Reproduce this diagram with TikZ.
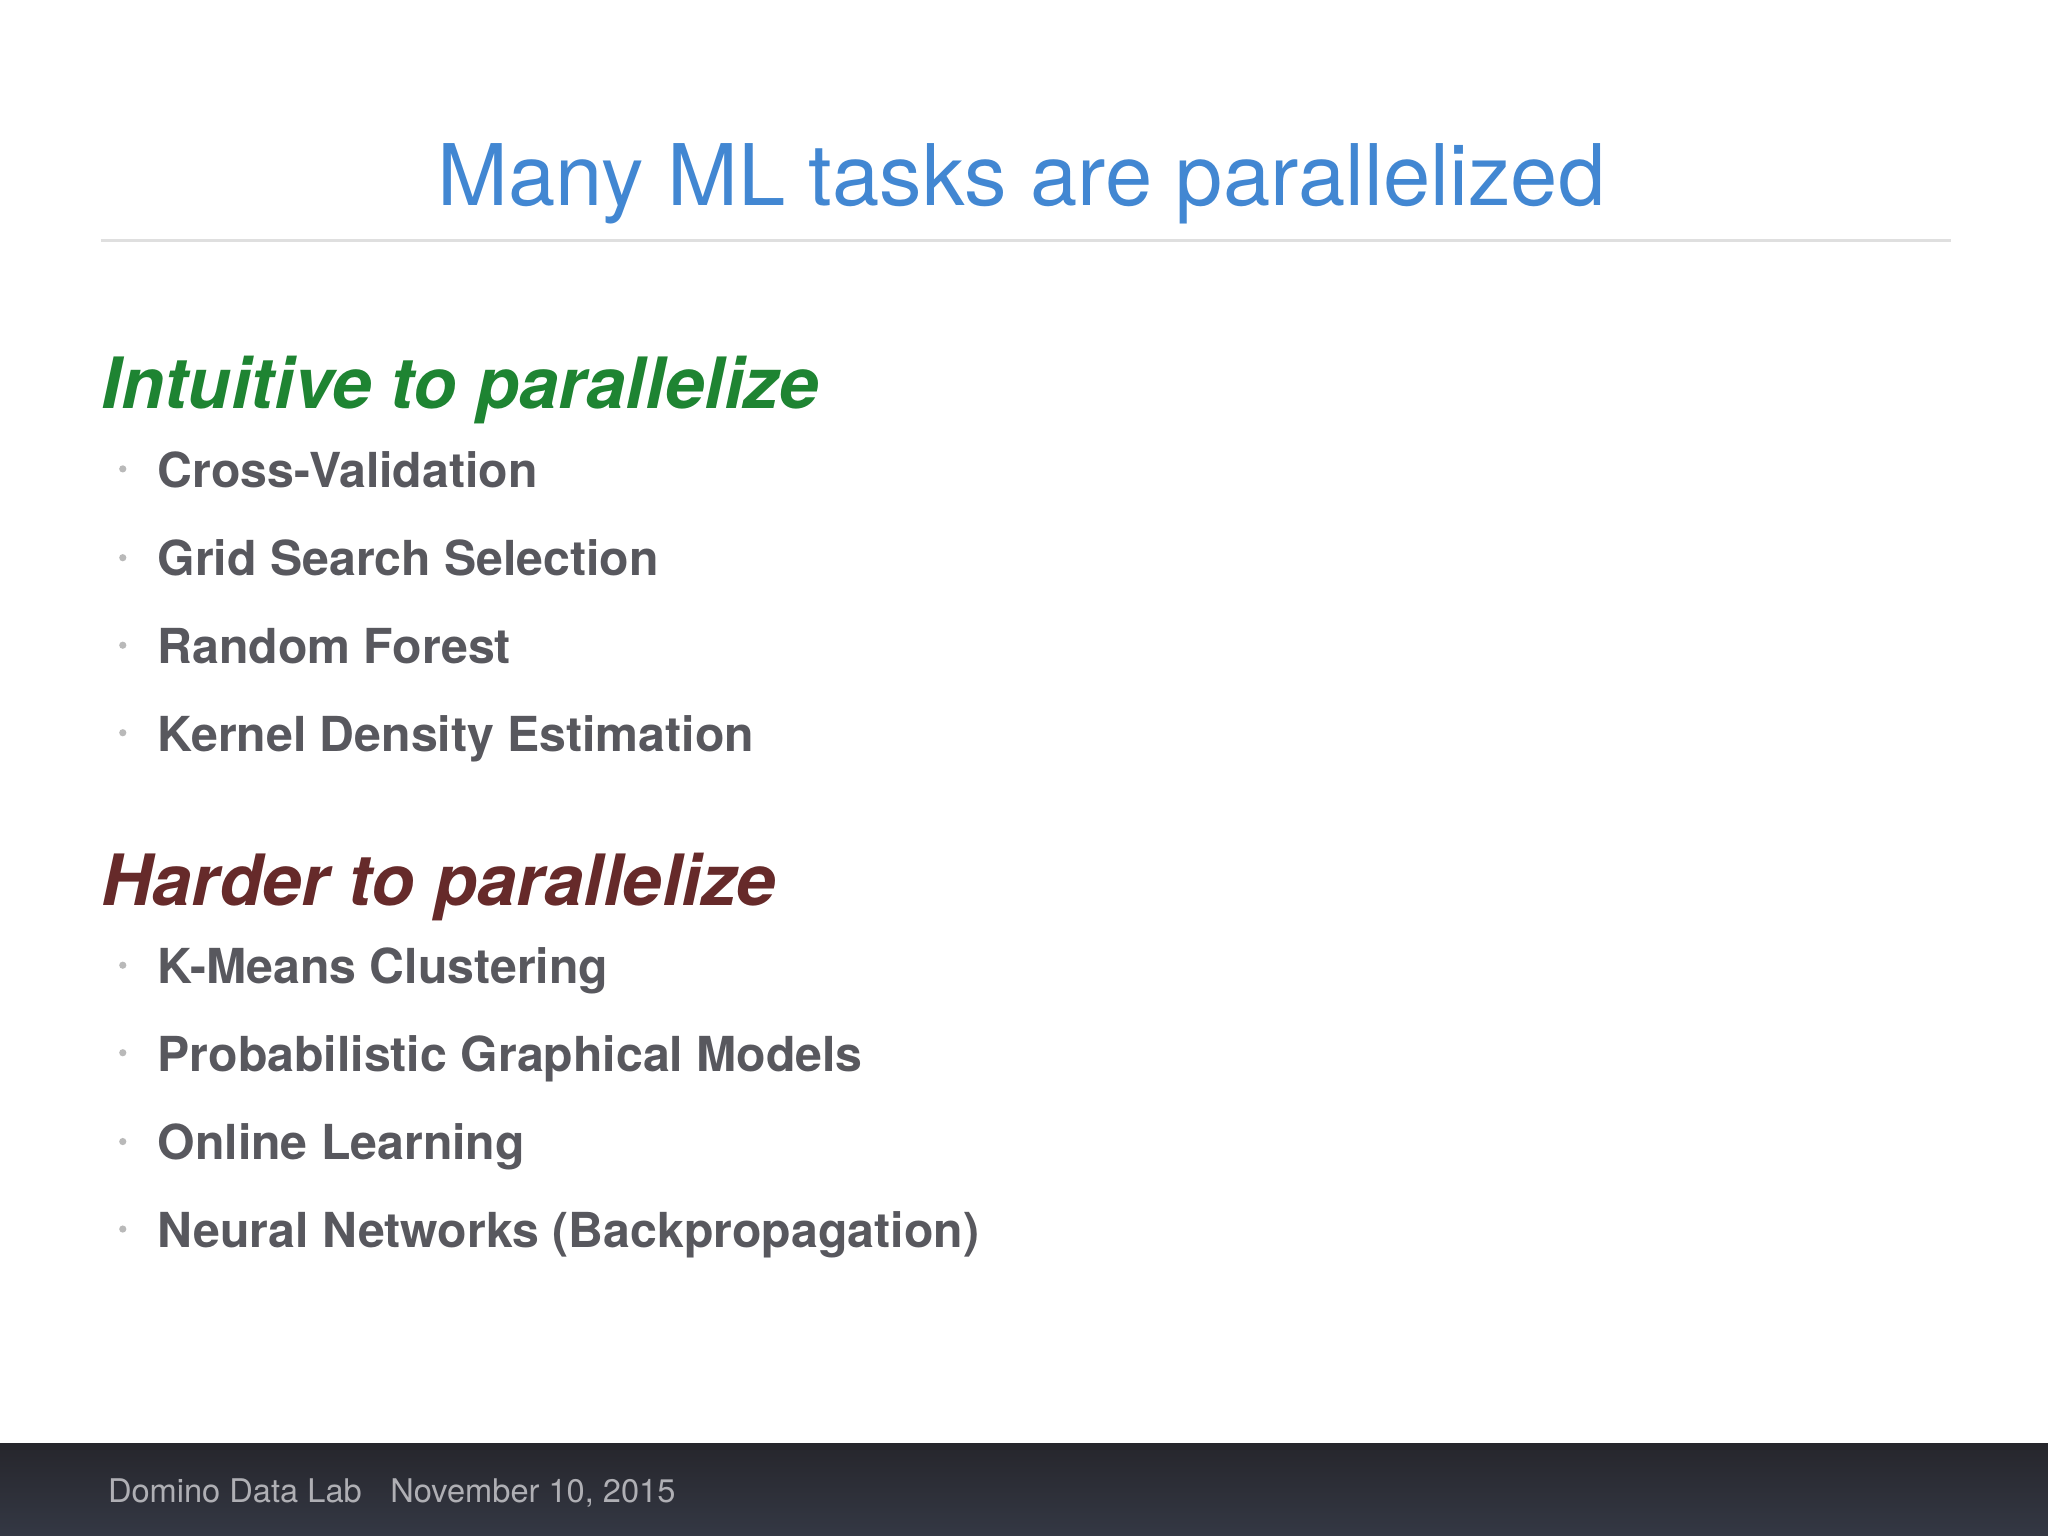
\documentclass[tikz,border=0pt]{standalone}
\usepackage{fontspec}
\setmainfont{TeX Gyre Heros}
\definecolor{titleblue}{RGB}{66,135,210}
\definecolor{hgreen}{RGB}{30,132,50}
\definecolor{hbrown}{RGB}{102,42,42}
\definecolor{itemgray}{RGB}{88,88,94}
\definecolor{footdark}{RGB}{38,38,44}
\definecolor{footblue}{RGB}{52,56,68}
\definecolor{foottext}{RGB}{175,175,180}
\tikzset{
  px/.style={x=0.01cm,y=-0.01cm},
  item/.style={anchor=base west,inner sep=0pt,text=itemgray,font=\fontsize{10.5}{12}\selectfont\bfseries},
  head/.style={anchor=base west,inner sep=0pt,font=\fontsize{15.4}{18}\selectfont\bfseries\itshape},
  bul/.style={circle,fill=gray!55,inner sep=0pt,minimum size=0.055cm}
}
\begin{document}
\begin{tikzpicture}[px]
\useasboundingbox (0,0) rectangle (1568,1176);
\fill[white] (0,0) rectangle (1568,1176);
\shade[top color=footdark,bottom color=footblue] (0,1105) rectangle (1568,1176);
\draw[gray!25,line width=0.6pt] (77,184) -- (1494,184);
\node[anchor=base,inner sep=0pt,text=titleblue,font=\fontsize{18.5}{22}\selectfont] (title) at (782,157) {Many ML tasks are parallelized};
\node[head,text=hgreen] (h1) at (77,313) {Intuitive to parallelize};
\foreach \t/\y/\n in {Cross-Validation/373/a1,Grid Search Selection/441/a2,Random Forest/508/a3,Kernel Density Estimation/575/a4}{
  \node[item] (\n) at (120,\y) {\t};
  \node[bul] (b\n) at (94,\y-14) {};
}
\node[head,text=hbrown] (h2) at (77,693) {Harder to parallelize};
\foreach \t/\y/\n in {K-Means Clustering/753/c1,Probabilistic Graphical Models/820/c2,Online Learning/888/c3,Neural Networks (Backpropagation)/955/c4}{
  \node[item] (\n) at (120,\y) {\t};
  \node[bul] (b\n) at (94,\y-14) {};
}
\node[anchor=base west,inner sep=0pt,text=foottext,font=\fontsize{7.1}{9}\selectfont] (foot) at (82,1150) {Domino Data Lab\hspace{0.6em} November 10, 2015};
\end{tikzpicture}
\end{document}
